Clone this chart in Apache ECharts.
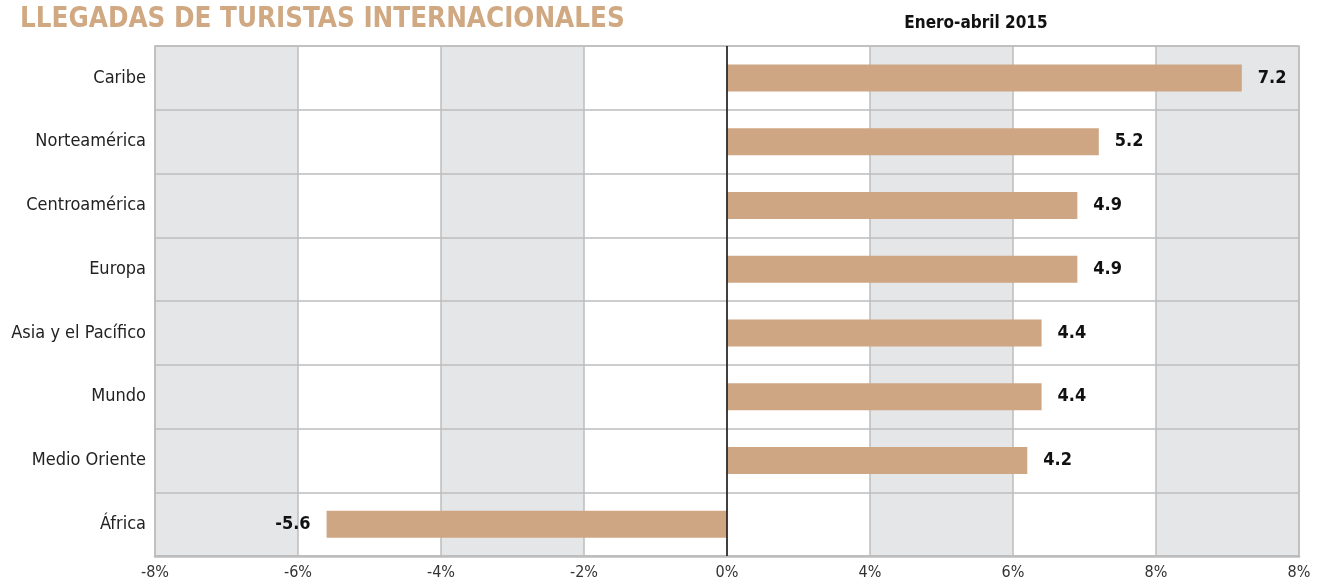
<!DOCTYPE html>
<html>
<head>
<meta charset="utf-8">
<script src="https://cdn.jsdelivr.net/npm/echarts@6/dist/echarts.min.js"></script>
<style>
html,body{margin:0;padding:0;background:#fff;}
#chart{width:1322px;height:581px;}
</style>
</head>
<body>
<div id="chart"></div>
<script>
var categories = ['Caribe','Norteamérica','Centroamérica','Europa','Asia y el Pacífico','Mundo','Medio Oriente','África'];
var values = [7.2, 5.2, 4.9, 4.9, 4.4, 4.4, 4.2, -5.6];
var tickLabels = ['-8%','-6%','-4%','-2%','0%','4%','6%','8%','8%'];
var titleText = 'LLEGADAS DE TURISTAS INTERNACIONALES';
var subtitleText = 'Enero-abril 2015';

var FONT = '"Liberation Sans Narrow","DejaVu Sans Condensed","Roboto",sans-serif';
var chart = echarts.init(document.getElementById('chart'), null, {renderer:'canvas'});
var option = {
  animation: false,
  backgroundColor: '#ffffff',
  title: [
    {text: titleText, left: 15, top: 1,
     textStyle: {fontFamily: FONT, fontWeight: 'bold', fontSize: 27.5, color: '#d0a882'}},
    {text: subtitleText, left: 971, top: 10, textAlign: 'center',
     textStyle: {fontFamily: FONT, fontWeight: 'bold', fontSize: 17, color: '#111'}}
  ],
  grid: {left: 155, right: 23, top: 46, bottom: 25, show: true, borderColor: '#bdbdbd', borderWidth: 1.5, backgroundColor: 'transparent', z: 3},
  xAxis: {
    type: 'value', min: -8, max: 8, interval: 2, z: 0,
    axisLine: {show: true, onZero: false, lineStyle: {color: '#bdbdbd', width: 2.5}}, axisTick: {show: false},
    axisLabel: {fontFamily: FONT, fontSize: 16, color: '#333', margin: 9,
      formatter: function(v){ return tickLabels[Math.round((v + 8) / 2)]; }},
    splitLine: {show: true, lineStyle: {color: '#bdbdbd', width: 1.5}},
    splitArea: {show: true, areaStyle: {color: ['#e5e6e8','#ffffff','#e5e6e8','#ffffff','#ffffff','#e5e6e8','#ffffff','#e5e6e8']}}
  },
  yAxis: {
    type: 'category', data: categories, inverse: true, z: 1,
    axisLine: {show: false}, axisTick: {show: false},
    axisLabel: {fontFamily: FONT, fontSize: 18, color: '#222', margin: 9},
    splitLine: {show: true, lineStyle: {color: '#bdbdbd', width: 1.5}}
  },
  series: [{
    type: 'bar', z: 2,
    data: values.map(function(v){
      return {value: v, label: {position: v < 0 ? 'left' : 'right'}};
    }),
    barWidth: 27,
    itemStyle: {color: '#cfa683'},
    label: {show: true, distance: 16, fontFamily: FONT, fontWeight: 'bold', fontSize: 18, color: '#111',
      formatter: function(p){ return p.value.toFixed(1); }},
    markLine: {
      silent: true, symbol: 'none', label: {show: false},
      lineStyle: {color: '#111', width: 1.5, type: 'solid'},
      data: [{xAxis: 0}]
    }
  }]
};
chart.setOption(option);
</script>
</body>
</html>
